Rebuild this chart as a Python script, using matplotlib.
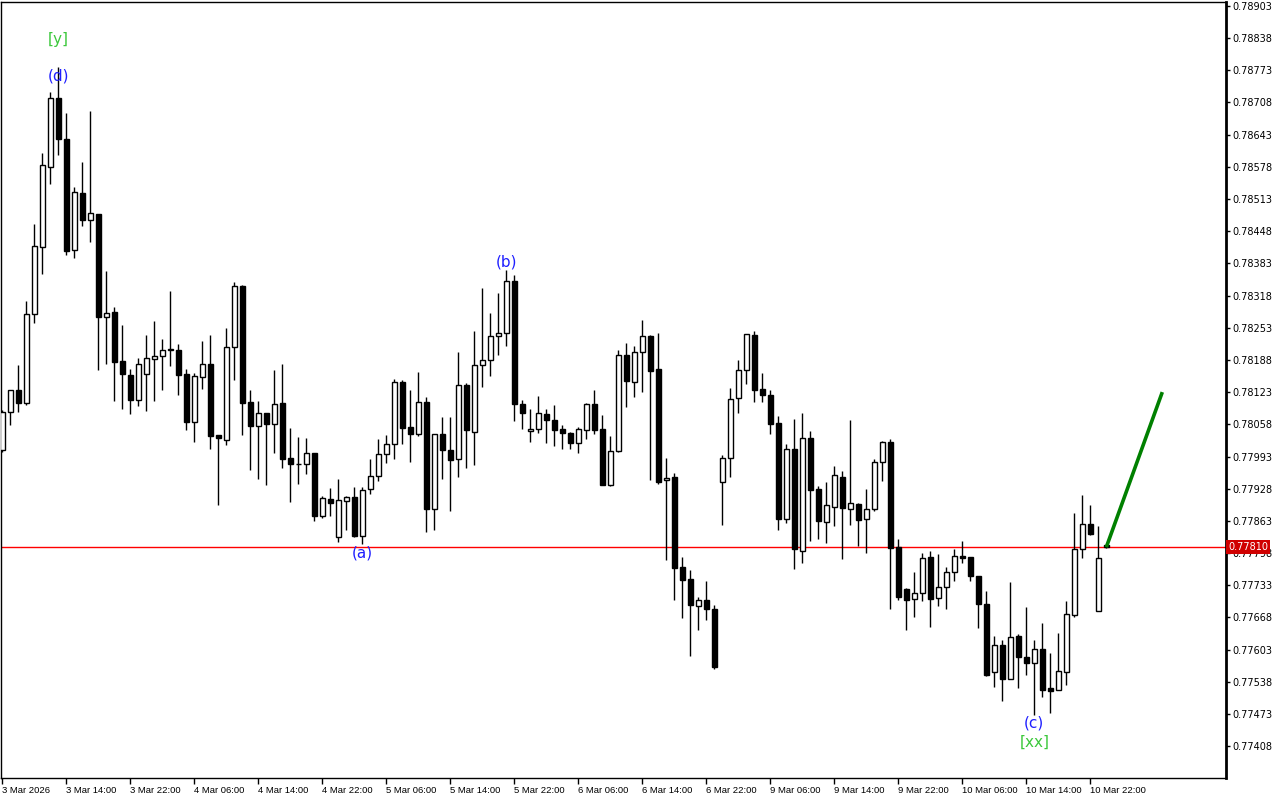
import matplotlib
matplotlib.use("Agg")
import matplotlib.pyplot as plt
import matplotlib.transforms as mtransforms
import numpy as np

# hourly OHLC, 3 Mar 06:00 .. 10 Mar 23:00
opens = [
    0.78007, 0.78082, 0.78127, 0.78102, 0.78280, 0.78415, 0.78578, 0.78716, 0.78634, 0.78409,
    0.78525, 0.78470, 0.78483, 0.78275, 0.78284, 0.78186, 0.78157, 0.78108, 0.78159, 0.78189,
    0.78195, 0.78209, 0.78209, 0.78159, 0.78063, 0.78154, 0.78179, 0.78036, 0.78027, 0.78214,
    0.78338, 0.78104, 0.78054, 0.78080, 0.78059, 0.78101, 0.77989, 0.77977, 0.77977, 0.78001,
    0.77873, 0.77908, 0.77830, 0.77904, 0.77911, 0.77832, 0.77927, 0.77953, 0.77999, 0.78018,
    0.78143, 0.78053, 0.78038, 0.78104, 0.77887, 0.78038, 0.78007, 0.77987, 0.78137, 0.78043,
    0.78177, 0.78187, 0.78236, 0.78242, 0.78347, 0.78098, 0.78044, 0.78048, 0.78078, 0.78066,
    0.78048, 0.78040, 0.78021, 0.78047, 0.78098, 0.78048, 0.77936, 0.78005, 0.78197, 0.78144,
    0.78203, 0.78236, 0.78169, 0.77945, 0.77951, 0.77770, 0.77745, 0.77692, 0.77704, 0.77686,
    0.77942, 0.77989, 0.78112, 0.78168, 0.78238, 0.78129, 0.78117, 0.78061, 0.77867, 0.78009,
    0.77803, 0.78030, 0.77927, 0.77861, 0.77892, 0.77951, 0.77888, 0.77898, 0.77866, 0.77888,
    0.77981, 0.78022, 0.77810, 0.77725, 0.77706, 0.77717, 0.77791, 0.77708, 0.77730, 0.77759,
    0.77793, 0.77791, 0.77751, 0.77696, 0.77557, 0.77612, 0.77544, 0.77630, 0.77589, 0.77576,
    0.77605, 0.77525, 0.77522, 0.77558, 0.77673, 0.77807, 0.77857, 0.77682, 0.77815,
]
highs = [
    0.78087, 0.78127, 0.78178, 0.78307, 0.78462, 0.78606, 0.78729, 0.78780, 0.78686, 0.78537,
    0.78588, 0.78691, 0.78483, 0.78368, 0.78295, 0.78258, 0.78170, 0.78192, 0.78238, 0.78267,
    0.78230, 0.78327, 0.78220, 0.78170, 0.78162, 0.78226, 0.78238, 0.78036, 0.78252, 0.78345,
    0.78340, 0.78127, 0.78105, 0.78080, 0.78168, 0.78180, 0.78050, 0.78032, 0.78030, 0.78001,
    0.77914, 0.77929, 0.77948, 0.77914, 0.77932, 0.77932, 0.77987, 0.78028, 0.78036, 0.78149,
    0.78147, 0.78127, 0.78164, 0.78113, 0.78038, 0.78073, 0.78073, 0.78204, 0.78142, 0.78246,
    0.78333, 0.78283, 0.78323, 0.78370, 0.78360, 0.78108, 0.78088, 0.78115, 0.78089, 0.78097,
    0.78057, 0.78042, 0.78053, 0.78102, 0.78127, 0.78077, 0.78034, 0.78207, 0.78222, 0.78216,
    0.78269, 0.78238, 0.78242, 0.77990, 0.77960, 0.77790, 0.77764, 0.77709, 0.77741, 0.77693,
    0.77997, 0.78131, 0.78187, 0.78240, 0.78246, 0.78162, 0.78127, 0.78074, 0.78018, 0.78069,
    0.78081, 0.78044, 0.77933, 0.77941, 0.77974, 0.77964, 0.78067, 0.77900, 0.77927, 0.77988,
    0.78024, 0.78028, 0.77826, 0.77727, 0.77759, 0.77799, 0.77803, 0.77797, 0.77770, 0.77807,
    0.77822, 0.77791, 0.77751, 0.77721, 0.77630, 0.77622, 0.77739, 0.77634, 0.77689, 0.77622,
    0.77656, 0.77597, 0.77636, 0.77702, 0.77879, 0.77915, 0.77895, 0.77852, 0.77815,
]
lows = [
    0.78002, 0.78057, 0.78083, 0.78096, 0.78262, 0.78362, 0.78543, 0.78602, 0.78400, 0.78394,
    0.78459, 0.78427, 0.78168, 0.78180, 0.78106, 0.78089, 0.78079, 0.78094, 0.78085, 0.78106,
    0.78128, 0.78176, 0.78118, 0.78047, 0.78023, 0.78130, 0.78009, 0.77896, 0.78017, 0.78148,
    0.78037, 0.77966, 0.77947, 0.77936, 0.78001, 0.77970, 0.77902, 0.77938, 0.77958, 0.77863,
    0.77869, 0.77873, 0.77820, 0.77844, 0.77831, 0.77816, 0.77917, 0.77943, 0.77980, 0.77987,
    0.78018, 0.77982, 0.78035, 0.77841, 0.77844, 0.77948, 0.77883, 0.77952, 0.77970, 0.77976,
    0.78134, 0.78156, 0.78198, 0.78217, 0.78065, 0.78049, 0.78023, 0.78041, 0.78021, 0.78015,
    0.78008, 0.78008, 0.78001, 0.78028, 0.78038, 0.77936, 0.77934, 0.78003, 0.78093, 0.78113,
    0.78123, 0.77945, 0.77938, 0.77784, 0.77704, 0.77667, 0.77591, 0.77643, 0.77663, 0.77564,
    0.77855, 0.77952, 0.78081, 0.78140, 0.78104, 0.78104, 0.78039, 0.77845, 0.77859, 0.77766,
    0.77778, 0.77823, 0.77827, 0.77819, 0.77853, 0.77786, 0.77855, 0.77813, 0.77799, 0.77882,
    0.77944, 0.77685, 0.77704, 0.77643, 0.77669, 0.77702, 0.77649, 0.77692, 0.77686, 0.77742,
    0.77779, 0.77742, 0.77647, 0.77550, 0.77528, 0.77500, 0.77544, 0.77526, 0.77552, 0.77471,
    0.77508, 0.77475, 0.77522, 0.77532, 0.77668, 0.77788, 0.77835, 0.77682, 0.77808,
]
closes = [
    0.78082, 0.78127, 0.78102, 0.78280, 0.78418, 0.78581, 0.78716, 0.78633, 0.78408, 0.78527,
    0.78471, 0.78484, 0.78275, 0.78282, 0.78184, 0.78159, 0.78108, 0.78179, 0.78191, 0.78195,
    0.78209, 0.78209, 0.78158, 0.78063, 0.78155, 0.78179, 0.78035, 0.78030, 0.78214, 0.78337,
    0.78100, 0.78055, 0.78080, 0.78059, 0.78098, 0.77988, 0.77977, 0.77977, 0.78001, 0.77873,
    0.77910, 0.77900, 0.77906, 0.77911, 0.77833, 0.77925, 0.77953, 0.77999, 0.78018, 0.78143,
    0.78051, 0.78038, 0.78104, 0.77887, 0.78038, 0.78007, 0.77986, 0.78137, 0.78047, 0.78177,
    0.78187, 0.78236, 0.78242, 0.78347, 0.78098, 0.78081, 0.78048, 0.78080, 0.78067, 0.78047,
    0.78041, 0.78021, 0.78048, 0.78098, 0.78047, 0.77936, 0.78005, 0.78197, 0.78146, 0.78203,
    0.78236, 0.78166, 0.77941, 0.77949, 0.77768, 0.77744, 0.77694, 0.77704, 0.77685, 0.77568,
    0.77989, 0.78110, 0.78167, 0.78240, 0.78128, 0.78118, 0.78059, 0.77867, 0.78009, 0.77807,
    0.78030, 0.77926, 0.77863, 0.77896, 0.77955, 0.77889, 0.77900, 0.77865, 0.77888, 0.77981,
    0.78022, 0.77809, 0.77710, 0.77704, 0.77717, 0.77789, 0.77706, 0.77730, 0.77759, 0.77793,
    0.77788, 0.77752, 0.77696, 0.77552, 0.77612, 0.77544, 0.77628, 0.77588, 0.77576, 0.77605,
    0.77522, 0.77520, 0.77559, 0.77676, 0.77807, 0.77857, 0.77837, 0.77789, 0.77810,
]

time_labels = ["3 Mar 2026", "3 Mar 14:00", "3 Mar 22:00", "4 Mar 06:00", "4 Mar 14:00",
               "4 Mar 22:00", "5 Mar 06:00", "5 Mar 14:00", "5 Mar 22:00", "6 Mar 06:00",
               "6 Mar 14:00", "6 Mar 22:00", "9 Mar 06:00", "9 Mar 14:00", "9 Mar 22:00",
               "10 Mar 06:00", "10 Mar 14:00", "10 Mar 22:00"]

current_price = 0.77810
# wave labels: (text, bar index, price, colour)
waves = [("[y]", 7, 0.78834, "#3cc83c"), ("(d)", 7, 0.78761, "#1f1fff"),
         ("(a)", 45, 0.77798, "#1f1fff"), ("(b)", 63, 0.78386, "#1f1fff"),
         ("(c)", 129, 0.77455, "#1f1fff"), ("[xx]", 129, 0.77416, "#3cc83c")]
target = (138, current_price, 145, 0.78123)

o = np.array(opens); h = np.array(highs); l = np.array(lows); c = np.array(closes)
x = np.arange(len(o))

fig = plt.figure(figsize=(12.8, 8), dpi=100)
ax = fig.add_axes([0.0008, 0.0275, 0.9570, 0.970])

ax.vlines(x, l, h, color="black", linewidth=1, zorder=2)
up = c >= o
body = np.maximum(np.abs(c - o), 0.000004)
ax.bar(x[up], body[up], bottom=o[up], width=0.6, color="white",
       edgecolor="black", linewidth=1, zorder=3)
ax.bar(x[~up], body[~up], bottom=c[~up], width=0.6, color="black",
       edgecolor="black", linewidth=1, zorder=3)

ax.axhline(current_price, color="#ff0000", linewidth=1, zorder=1)
ax.plot([target[0], target[2]], [target[1], target[3]], color="#008000",
        linewidth=2.6, solid_capstyle="butt", zorder=4)

for txt, xi, yv, col in waves:
    ax.text(xi, yv, txt, color=col, fontsize=11, ha="center", va="center", zorder=5)

ax.set_xlim(-0.16, 152.96)
ax.set_ylim(0.77344, 0.789105)

yt = np.arange(0.77408, 0.78904, 0.00065)
ax.yaxis.tick_right()
ax.set_yticks(yt)
ax.set_yticklabels([f"{v:.5f}" for v in yt])
ax.tick_params(axis="y", direction="out", length=3, width=1, pad=1.5, labelsize=7)

ax.set_xticks(np.arange(0, 8 * len(time_labels), 8))
ax.set_xticklabels(time_labels, ha="left", fontfamily="Liberation Sans", fontsize=6.8)
ax.tick_params(axis="x", direction="out", length=4, width=1, pad=1.5)

for s in ax.spines.values():
    s.set_color("black")
    s.set_linewidth(1)
ax.spines["right"].set_linewidth(2)

trans = mtransforms.blended_transform_factory(ax.transAxes, ax.transData)
ax.text(1.002, current_price, "0.77810", transform=trans, color="white", fontsize=7,
        ha="left", va="center", zorder=6,
        bbox=dict(boxstyle="square,pad=0.2", facecolor="#d00000", edgecolor="none"))

fig.savefig("out.png", dpi=100, facecolor="white")
